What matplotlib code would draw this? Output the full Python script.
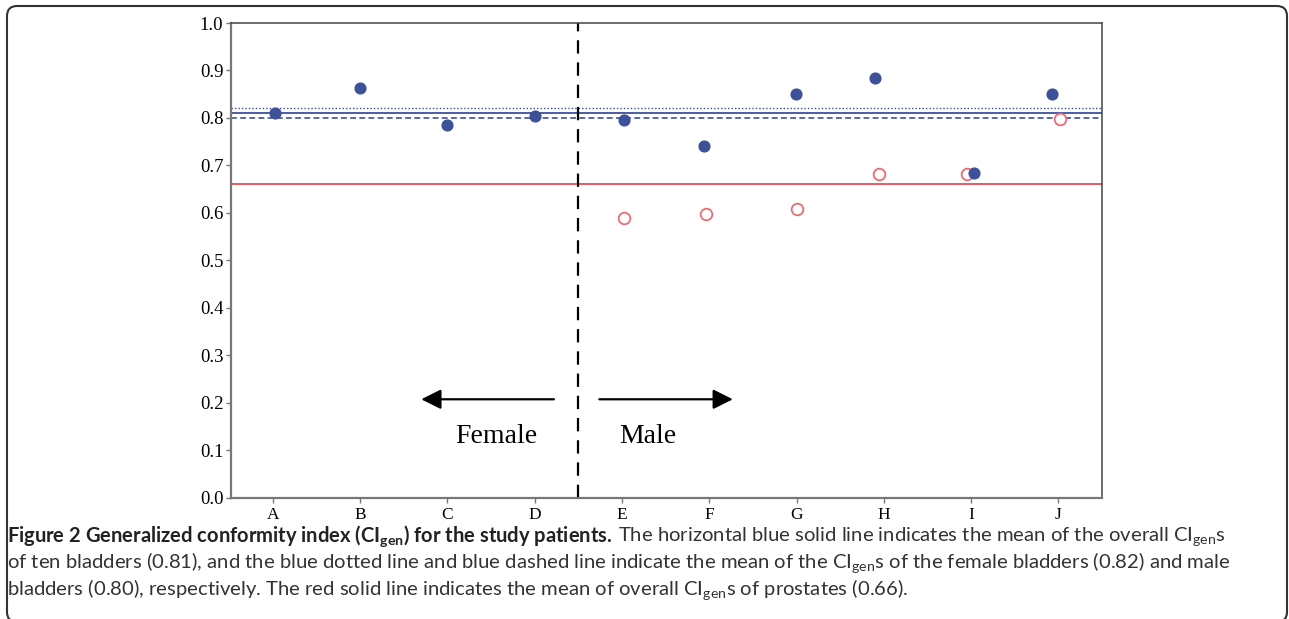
import matplotlib
matplotlib.use('Agg')
from matplotlib import pyplot as plt
from matplotlib.patches import FancyBboxPatch
from matplotlib.transforms import IdentityTransform
import numpy as np

patients = ['A', 'B', 'C', 'D', 'E', 'F', 'G', 'H', 'I', 'J']
bladder_ci = [0.810, 0.863, 0.785, 0.803, 0.795, 0.741, 0.850, 0.884, 0.684, 0.850]
prostate_ci = [np.nan, np.nan, np.nan, np.nan, 0.588, 0.598, 0.607, 0.681, 0.681, 0.797]
# small horizontal shifts of the points as drawn in the original
bladder_shift = [0.02, 0.0, 0.0, 0.0, 0.02, -0.06, -0.01, -0.10, 0.03, -0.07]
prostate_shift = [0, 0, 0, 0, 0.02, -0.04, 0.0, -0.06, -0.05, 0.02]
mean_all = 0.81
mean_female = 0.82
mean_male = 0.80
mean_prostate = 0.66
n_female = 4

BLUE = '#3d5199'
RED = '#ec6a72'

plt.rcParams['mathtext.fontset'] = 'custom'
plt.rcParams['mathtext.rm'] = 'Lato'
plt.rcParams['mathtext.bf'] = 'Lato:bold'

W, H = 1289, 619
fig = plt.figure(figsize=(W / 100, H / 100), dpi=100)
ax = fig.add_axes([231 / W, 1 - 497.5 / H, (1102 - 231) / W, (497.5 - 23) / H])

x = np.arange(len(patients))
ax.axhline(mean_female, color=BLUE, lw=1.0, ls=(0, (1, 1.5)), zorder=1)
ax.axhline(mean_all, color=BLUE, lw=1.3, zorder=1)
ax.axhline(mean_male, color=BLUE, lw=1.2, ls=(0, (3.5, 2)), zorder=1)
ax.axhline(mean_prostate, color='#e85a60', lw=1.4, zorder=1)
ax.axvline(n_female - 0.5, color='black', lw=1.6, ls=(0, (6, 4)), zorder=1)

ax.scatter(x + np.array(prostate_shift), prostate_ci, s=70, facecolors='white',
           edgecolors=RED, linewidths=1.3, zorder=3)
ax.scatter(x + np.array(bladder_shift), bladder_ci, s=60, color=BLUE, zorder=4)

arrow = dict(arrowstyle='-|>,head_length=0.6,head_width=0.3', color='black',
             lw=1.6, shrinkA=0, shrinkB=0, mutation_scale=20)
ax.annotate('', xy=(1.70, 0.207), xytext=(3.22, 0.207), arrowprops=arrow)
ax.annotate('', xy=(5.27, 0.207), xytext=(3.74, 0.207), arrowprops=arrow)
ax.text(2.56, 0.128, 'Female', ha='center', va='center', fontsize=20,
        family='Liberation Serif')
ax.text(4.29, 0.128, 'Male', ha='center', va='center', fontsize=20,
        family='Liberation Serif')

ax.set_xlim(-0.48, 9.5)
ax.set_ylim(0, 1.0)
ax.set_xticks(x)
ax.set_xticklabels(patients, family='Liberation Serif', fontsize=12.5)
yt = np.round(np.arange(0, 1.01, 0.1), 1)
ax.set_yticks(yt)
ax.set_yticklabels([f'{v:.1f}' for v in yt], family='Liberation Serif', fontsize=13.5)
ax.tick_params(length=3.5, width=1, color='#777777', pad=2)
ax.tick_params(axis='x', pad=3)
for side in ['left', 'bottom']:
    ax.spines[side].set_color('#777777')
    ax.spines[side].set_linewidth(1.6)
for side in ['top', 'right']:
    ax.spines[side].set_color('#444444')
    ax.spines[side].set_linewidth(1.1)

# caption
sub = r'CI$_{\mathrm{gen}}$'
bold = r'Figure 2 Generalized conformity index (CI$_{\mathbf{gen}}$) for the study patients.'
rest1 = 'The horizontal blue solid line indicates the mean of the overall ' + sub + 's'
line2 = ('of ten bladders (0.81), and the blue dotted line and blue dashed line indicate '
         'the mean of the ' + sub + 's of the female bladders (0.82) and male')
line3 = 'bladders (0.80), respectively. The red solid line indicates the mean of overall ' + sub + 's of prostates (0.66).'

renderer = fig.canvas.get_renderer()


def fitted(xpx, ypx, s, width, **kw):
    t = fig.text(xpx / W, 1 - ypx / H, s, fontsize=12, family='Lato',
                 va='baseline', **kw)
    w = t.get_window_extent(renderer).width
    t.set_fontsize(12 * width / w)
    return t


fitted(7, 542, bold, 604, weight='bold', color='#222222')
t2 = fitted(7, 569, line2, 1221, color='#333333')
reg = t2.get_fontsize()
fig.text(618 / W, 1 - 542 / H, rest1, fontsize=reg, family='Lato',
         color='#333333', va='baseline')
fig.text(7 / W, 1 - 596 / H, line3, fontsize=reg, family='Lato',
         color='#333333', va='baseline')

border = FancyBboxPatch((7, -3), 1280, 616, boxstyle='round,pad=0,rounding_size=10',
                        transform=IdentityTransform(), fill=False,
                        edgecolor='#333333', lw=1.5)
fig.patches.append(border)

fig.savefig('out.png', dpi=100)
